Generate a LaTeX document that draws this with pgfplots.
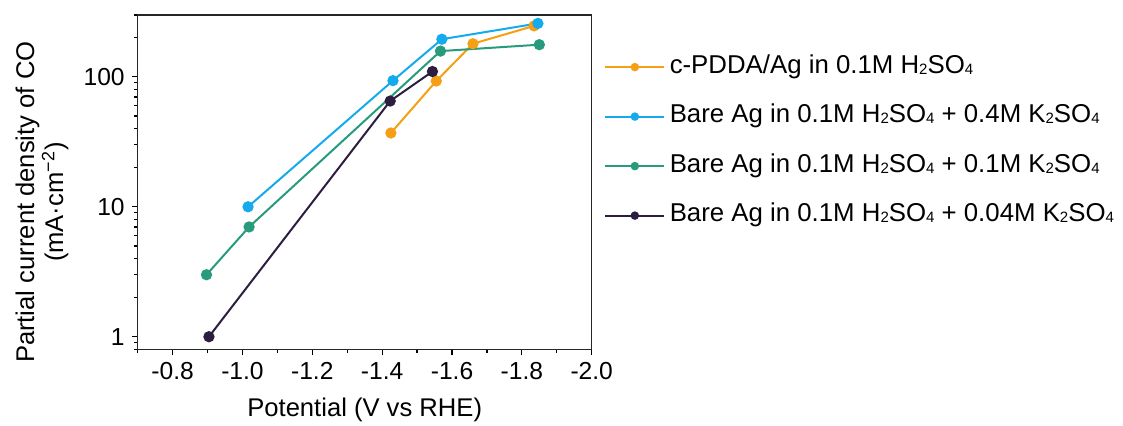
\documentclass[border=0pt]{standalone}
\usepackage{fontspec}
\setmainfont{Liberation Sans}
\usepackage{pgfplots}
\pgfplotsset{compat=1.18}

\definecolor{corange}{RGB}{245,160,20}
\definecolor{cblue}{RGB}{20,170,235}
\definecolor{cgreen}{RGB}{40,155,125}
\definecolor{cdark}{RGB}{45,30,65}
\newcommand{\sub}[1]{\raisebox{-0.04em}{\fontsize{7.5}{8}\selectfont #1}}

\begin{document}
\begin{tikzpicture}
\useasboundingbox (-68.85pt,-37.85pt) rectangle (492.65pt,174.65pt);
\begin{axis}[
 scale only axis, width=227pt, height=167.2pt,
 at={(0,0)}, anchor=south west,
 x dir=reverse, xmin=-2.0, xmax=-0.7,
 ymode=log, ymin=0.8, ymax=300,
 xtick={-0.8,-1.0,-1.2,-1.4,-1.6,-1.8,-2.0},
 xticklabels={-0.8,-1.0,-1.2,-1.4,-1.6,-1.8,-2.0},
 minor xtick={-0.7,-0.9,-1.1,-1.3,-1.5,-1.7,-1.9},
 ytick={1,10,100}, yticklabels={1,10,100},
 minor ytick={0.8,0.9,2,3,4,5,6,7,8,9,20,30,40,50,60,70,80,90,200,300},
 xtick pos=bottom, ytick pos=left, tick align=outside,
 major tick length=3pt, minor tick length=1.8pt,
 tick style={line width=0.6pt, black},
 axis line style={line width=0.6pt, black!85},
 tick label style={font=\fontsize{12.3}{14}\selectfont},
 xlabel={Potential (V vs RHE)},
 ylabel={Partial current density of CO\\(mA·cm\textsuperscript{−2})},
 label style={font=\fontsize{12.8}{14.5}\selectfont},
 xlabel style={at={(axis description cs:0.5,-0.1815)}, anchor=center},
 ylabel style={at={(axis description cs:-0.211,0.44)}, anchor=center, align=center},
 legend style={draw=none, fill=none, at={(1.027,0.884)}, anchor=north west,
   font=\fontsize{12.9}{15}\selectfont, row sep=11.75pt, inner sep=0pt,
   nodes={inner ysep=1pt, inner xsep=2.2pt, text height=8.5pt, text depth=2.5pt}},
 legend cell align=left,
 legend image code/.code={\draw[mark repeat=2,mark phase=2,#1,mark size=1.6pt] plot coordinates {(0pt,0pt) (14.75pt,0pt) (29.5pt,0pt)};},
 every axis plot/.append style={line width=1pt, mark=*, mark size=2.3pt},
]
\addplot[corange, mark options={fill=corange, draw=corange}] coordinates {(-1.425,37) (-1.555,93) (-1.66,180) (-1.835,247)};
\addlegendentry{c-PDDA/Ag in 0.1M H\sub{2}SO\sub{4}}
\addplot[cblue, mark options={fill=cblue, draw=cblue}] coordinates {(-1.016,10) (-1.431,93.6) (-1.571,195) (-1.846,258)};
\addlegendentry{Bare Ag in 0.1M H\sub{2}SO\sub{4} + 0.4M K\sub{2}SO\sub{4}}
\addplot[cgreen, mark options={fill=cgreen, draw=cgreen}] coordinates {(-0.897,3.0) (-1.019,7.0) (-1.567,158) (-1.850,177)};
\addlegendentry{Bare Ag in 0.1M H\sub{2}SO\sub{4} + 0.1M K\sub{2}SO\sub{4}}
\addplot[cdark, mark options={fill=cdark, draw=cdark}] coordinates {(-0.904,1.0) (-1.423,65.2) (-1.544,110)};
\addlegendentry{Bare Ag in 0.1M H\sub{2}SO\sub{4} + 0.04M K\sub{2}SO\sub{4}}
\end{axis}
\end{tikzpicture}
\end{document}
